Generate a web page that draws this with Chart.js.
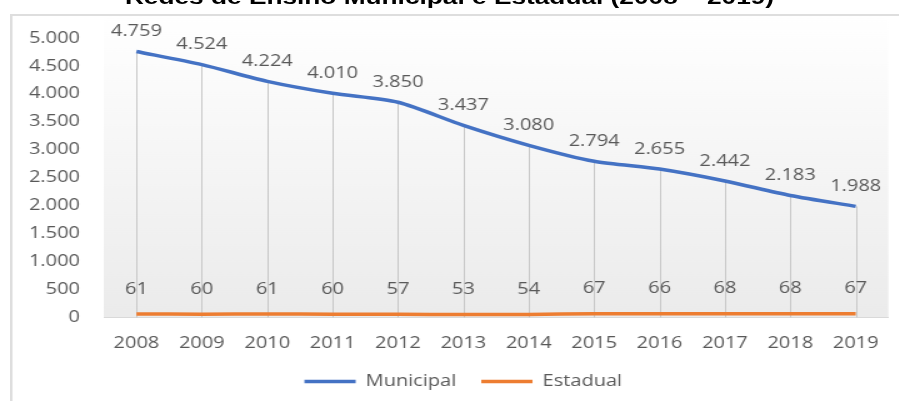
<!DOCTYPE html>
<html lang="pt-BR">
<head>
<meta charset="utf-8">
<title>Redes de Ensino Municipal e Estadual (2008 – 2019)</title>
<script src="https://cdn.jsdelivr.net/npm/chart.js@4.4.1/dist/chart.umd.min.js"></script>
<style>
    html, body { margin: 0; padding: 0; background: #fff; overflow: hidden; }
    /* a imagem original está esticada na horizontal */
    #wrap { position: absolute; left: 0; top: 0; width: 719.2px; height: 401px; transform: scaleX(1.25); transform-origin: 0 0; }
    #titulo { position: absolute; left: 0; top: -13px; width: 100%; text-align: center; font: bold 21px "Liberation Sans", Arial, sans-serif; line-height: 20px; color: #000; white-space: nowrap; }
    #moldura { position: absolute; left: 8px; top: 14px; width: 800px; height: 500px; border: 2px solid #dedede; box-sizing: border-box; }
    #box { position: absolute; left: 0; top: 0; width: 719.2px; height: 401px; }
</style>
</head>
<body>
<div id="wrap">
    <div id="titulo">Redes de Ensino Municipal e Estadual (2008 – 2019)</div>
    <div id="moldura"></div>
    <div id="box"><canvas id="grafico"></canvas></div>
</div>
<script>
// Dados
const anos = ['2008', '2009', '2010', '2011', '2012', '2013', '2014', '2015', '2016', '2017', '2018', '2019'];
const municipal = [4759, 4524, 4224, 4010, 3850, 3437, 3080, 2794, 2655, 2442, 2183, 1988];
const estadual = [61, 60, 61, 60, 57, 53, 54, 67, 66, 68, 68, 67];
const nomesSeries = ['Municipal', 'Estadual'];
const eixoY = { min: 0, max: 5000, passo: 500 };

const CINZA = '#595959';
const FONTE = '"Open Sans", "Noto Sans", sans-serif';

// Fundo em degradê da área do gráfico
const fundoPlugin = {
    id: 'fundo',
    beforeDraw(chart) {
        const { ctx, chartArea: a } = chart;
        const topo = 16;
        const g = ctx.createLinearGradient(0, topo, 0, a.bottom);
        g.addColorStop(0, '#ffffff');
        g.addColorStop(1, '#ebebeb');
        ctx.save();
        ctx.fillStyle = g;
        ctx.fillRect(a.left, topo, a.right - a.left, a.bottom - topo);
        ctx.restore();
    }
};

// Legenda um pouco mais à direita, como no original
const legendaPlugin = {
    id: 'legendaDesloc',
    afterLayout(chart) {
        if (chart.legend) {
            chart.legend.left += 15;
            chart.legend.right += 15;
        }
    }
};

// Linhas verticais (do ponto municipal até o eixo)
const linhasPlugin = {
    id: 'linhasQueda',
    beforeDatasetsDraw(chart) {
        const { ctx, chartArea: a } = chart;
        const pts = chart.getDatasetMeta(0).data;
        ctx.save();
        ctx.strokeStyle = '#c8c8c8';
        ctx.lineWidth = 1;
        pts.forEach(p => {
            const x = Math.round(p.x) + 0.5;
            ctx.beginPath();
            ctx.moveTo(x, p.y);
            ctx.lineTo(x, a.bottom);
            ctx.stroke();
        });
        ctx.restore();
    }
};

// Rótulos de dados
const rotulosPlugin = {
    id: 'rotulos',
    afterDatasetsDraw(chart) {
        const { ctx } = chart;
        const desloc = [20, 25];
        ctx.save();
        ctx.font = '16px ' + FONTE;
        ctx.fillStyle = CINZA;
        ctx.textAlign = 'center';
        ctx.textBaseline = 'middle';
        chart.data.datasets.forEach((ds, i) => {
            chart.getDatasetMeta(i).data.forEach((p, j) => {
                ctx.fillText(ds.data[j].toLocaleString('pt-BR'), p.x, p.y - desloc[i]);
            });
        });
        ctx.restore();
    }
};

new Chart(document.getElementById('grafico'), {
    type: 'line',
    data: {
        labels: anos,
        datasets: [
            { label: nomesSeries[0], data: municipal, borderColor: '#4472C4', backgroundColor: '#4472C4', borderWidth: 3.5, pointRadius: 0, tension: 0.25 },
            { label: nomesSeries[1], data: estadual, borderColor: '#ED7D31', backgroundColor: '#ED7D31', borderWidth: 3.5, pointRadius: 0, tension: 0.25 }
        ]
    },
    options: {
        responsive: true,
        maintainAspectRatio: false,
        animation: false,
        locale: 'pt-BR',
        layout: { padding: { top: 38, right: 8, left: 0, bottom: 1.5 } },
        plugins: {
            title: { display: false },
            tooltip: { enabled: false },
            legend: {
                position: 'bottom',
                labels: {
                    color: CINZA,
                    font: { family: FONTE, size: 16 },
                    boxWidth: 41,
                    boxHeight: 3.5,
                    padding: 20,
                    generateLabels(chart) {
                        return Chart.defaults.plugins.legend.labels.generateLabels(chart)
                            .map(it => Object.assign(it, { lineWidth: 0 }));
                    }
                }
            }
        },
        scales: {
            x: {
                offset: true,
                grid: { display: false, drawTicks: false },
                border: { display: true, color: '#d9d9d9', width: 1 },
                ticks: { color: CINZA, font: { family: FONTE, size: 16 }, padding: 16, maxRotation: 0 },
                afterFit(s) { s.height = 36; }
            },
            y: {
                min: eixoY.min,
                max: eixoY.max,
                grid: { display: false, drawTicks: false },
                border: { display: false },
                ticks: { stepSize: eixoY.passo, color: CINZA, font: { family: FONTE, size: 16 }, padding: 19 },
                afterFit(s) { s.width = 83; }
            }
        }
    },
    plugins: [fundoPlugin, legendaPlugin, linhasPlugin, rotulosPlugin]
});
</script>
</body>
</html>
